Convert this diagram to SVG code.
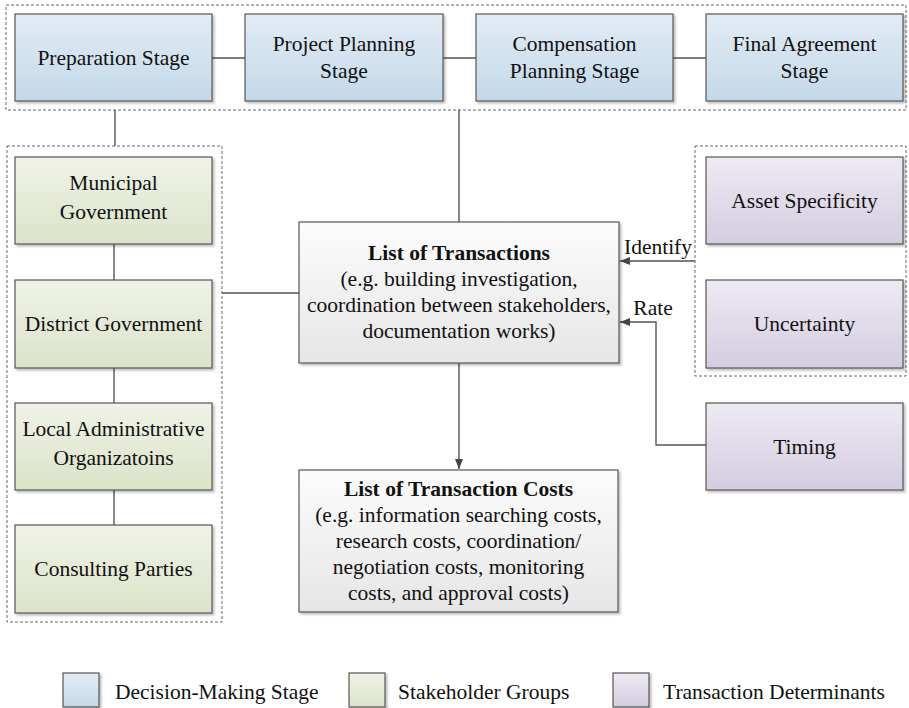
<svg xmlns="http://www.w3.org/2000/svg" width="909" height="708" viewBox="0 0 909 708">
<defs>
<linearGradient id="gBlue" x1="0" y1="0" x2="0" y2="1"><stop offset="0" stop-color="#e2ecf5"/><stop offset="1" stop-color="#c4d8e9"/></linearGradient>
<linearGradient id="gGreen" x1="0" y1="0" x2="0" y2="1"><stop offset="0" stop-color="#f0f3e7"/><stop offset="1" stop-color="#dbe3c9"/></linearGradient>
<linearGradient id="gPurple" x1="0" y1="0" x2="0" y2="1"><stop offset="0" stop-color="#eeeaf3"/><stop offset="1" stop-color="#d4cce0"/></linearGradient>
<linearGradient id="gGray" x1="0" y1="0" x2="0" y2="1"><stop offset="0" stop-color="#fcfcfc"/><stop offset="1" stop-color="#e6e6e6"/></linearGradient>
<filter id="sh" x="-5%" y="-5%" width="115%" height="120%"><feDropShadow dx="2" dy="2" stdDeviation="1" flood-color="#000" flood-opacity="0.25"/></filter>
<marker id="arr" viewBox="0 0 10 10" refX="10" refY="5" markerWidth="10" markerHeight="10" markerUnits="userSpaceOnUse" orient="auto"><path d="M0,1 L10,5 L0,9 z" fill="#444"/></marker>
<style>
.box{stroke:#555;stroke-width:1.2;filter:url(#sh)}
.blue{fill:url(#gBlue)}
.green{fill:url(#gGreen)}
.purple{fill:url(#gPurple)}
.gray{fill:url(#gGray)}
.grp{fill:none;stroke:#666;stroke-width:1;stroke-dasharray:3,2}
.ln{fill:none;stroke:#555;stroke-width:1.4}
text{font-family:"Liberation Serif","Times New Roman",serif;font-size:21.5px;fill:#111;text-anchor:middle}
.b{font-weight:bold}
.lg{text-anchor:start}
</style>
</defs>
<rect width="909" height="708" fill="#fff"/>

<!-- group containers -->
<g id="containers">
<rect class="grp" x="6" y="5" width="900" height="105"/>
<rect class="grp" x="7" y="146" width="215" height="476"/>
<rect class="grp" x="695" y="146" width="211" height="230"/>
</g>

<!-- connectors -->
<g id="connectors">
<line class="ln" x1="212" y1="58" x2="245" y2="58"/>
<line class="ln" x1="443" y1="58" x2="476" y2="58"/>
<line class="ln" x1="673" y1="58" x2="706" y2="58"/>
<line class="ln" x1="115" y1="110" x2="115" y2="146"/>
<line class="ln" x1="459" y1="110" x2="459" y2="222"/>
<line class="ln" x1="114" y1="244" x2="114" y2="280"/>
<line class="ln" x1="114" y1="368" x2="114" y2="403"/>
<line class="ln" x1="114" y1="490" x2="114" y2="525"/>
<line class="ln" x1="222" y1="293" x2="299" y2="293"/>
<line class="ln" x1="459" y1="363" x2="459" y2="469" marker-end="url(#arr)"/>
<line class="ln" x1="695" y1="261" x2="620" y2="261" marker-end="url(#arr)"/>
<polyline class="ln" points="706,445 656,445 656,322 620,322" marker-end="url(#arr)"/>
<text x="658" y="254">Identify</text>
<text x="653" y="315">Rate</text>
</g>

<!-- decision-making stages -->
<g id="preparation"><rect class="box blue" x="15" y="14" width="197" height="87"/><text x="113.5" y="65">Preparation Stage</text></g>
<g id="project-planning"><rect class="box blue" x="245" y="14" width="198" height="87"/><text x="344" y="51">Project Planning</text><text x="344" y="78">Stage</text></g>
<g id="compensation-planning"><rect class="box blue" x="476" y="14" width="197" height="87"/><text x="574.5" y="51">Compensation</text><text x="574.5" y="78">Planning Stage</text></g>
<g id="final-agreement"><rect class="box blue" x="706" y="14" width="197" height="87"/><text x="804.5" y="51">Final Agreement</text><text x="804.5" y="78">Stage</text></g>

<!-- stakeholder groups -->
<g id="municipal"><rect class="box green" x="15" y="157" width="197" height="87"/><text x="113.5" y="190">Municipal</text><text x="113.5" y="219">Government</text></g>
<g id="district"><rect class="box green" x="15" y="280" width="197" height="88"/><text x="113.5" y="331">District Government</text></g>
<g id="local"><rect class="box green" x="15" y="403" width="197" height="87"/><text x="113.5" y="436">Local Administrative</text><text x="113.5" y="465">Organizatoins</text></g>
<g id="consulting"><rect class="box green" x="15" y="525" width="197" height="88"/><text x="113.5" y="576">Consulting Parties</text></g>

<!-- transactions -->
<g id="transactions"><rect class="box gray" x="299" y="222" width="320" height="141"/>
<text class="b" x="459" y="260">List of Transactions</text>
<text x="459" y="286">(e.g. building investigation,</text>
<text x="459" y="312">coordination between stakeholders,</text>
<text x="459" y="338">documentation works)</text></g>

<g id="transaction-costs"><rect class="box gray" x="299" y="470" width="319" height="142"/>
<text class="b" x="458.5" y="496">List of Transaction Costs</text>
<text x="458.5" y="522">(e.g. information searching costs,</text>
<text x="458.5" y="548">research costs, coordination/</text>
<text x="458.5" y="574">negotiation costs, monitoring</text>
<text x="458.5" y="600">costs, and approval costs)</text></g>

<!-- determinants -->
<g id="asset-specificity"><rect class="box purple" x="706" y="157" width="197" height="87"/><text x="804.5" y="208">Asset Specificity</text></g>
<g id="uncertainty"><rect class="box purple" x="706" y="280" width="197" height="88"/><text x="804.5" y="331">Uncertainty</text></g>
<g id="timing"><rect class="box purple" x="706" y="403" width="197" height="87"/><text x="804.5" y="454">Timing</text></g>

<!-- legend -->
<g id="legend">
<rect class="box blue" x="63" y="673" width="36" height="34"/>
<text class="lg" x="115" y="699">Decision-Making Stage</text>
<rect class="box green" x="349" y="673" width="36" height="34"/>
<text class="lg" x="398" y="699">Stakeholder Groups</text>
<rect class="box purple" x="613" y="673" width="36" height="34"/>
<text class="lg" x="663" y="699">Transaction Determinants</text>
</g>
</svg>
